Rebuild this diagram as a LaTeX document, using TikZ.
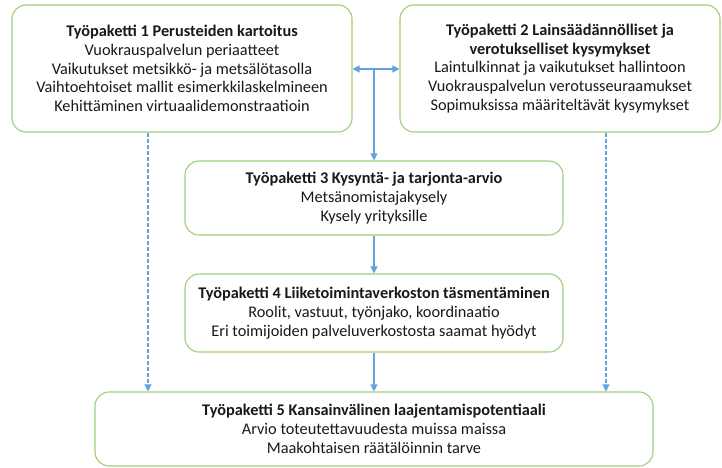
\documentclass[tikz,border=0pt]{standalone}
\usepackage{fontspec}
\setmainfont{Carlito}
\usetikzlibrary{arrows.meta}
\definecolor{boxgreen}{RGB}{160,206,122}
\definecolor{arrblue}{RGB}{96,163,222}
\tikzset{
  wpbox/.style={draw=boxgreen, line width=1.1pt, rounded corners=14pt, fill=white,
    align=center, inner sep=0pt, font=\fontsize{16.3}{18.8}\selectfont, text=black!90},
  conn/.style={draw=arrblue, line width=1.2pt, -{Triangle[length=7pt,width=7pt]}},
  dconn/.style={conn, dash pattern=on 4pt off 2pt},
}
\begin{document}
\begin{tikzpicture}[x=1pt,y=-1pt]
\useasboundingbox (0,0) rectangle (722,467);
\node[wpbox, minimum width=340pt, minimum height=127pt] (wp1) at (182,68.5)
  {\textbf{Työpaketti 1 Perusteiden kartoitus}\\Vuokrauspalvelun periaatteet\\Vaikutukset metsikkö- ja metsälötasolla\\Vaihtoehtoiset mallit esimerkkilaskelmineen\\Kehittäminen virtuaalidemonstraatioin};
\node[wpbox, minimum width=320pt, minimum height=127pt] (wp2) at (560,68.5)
  {\textbf{Työpaketti 2 Lainsäädännölliset ja}\\\textbf{verotukselliset kysymykset}\\Laintulkinnat ja vaikutukset hallintoon\\Vuokrauspalvelun verotusseuraamukset\\Sopimuksissa määriteltävät kysymykset};
\node[wpbox, minimum width=378pt, minimum height=74pt] (wp3) at (374,198)
  {\textbf{Työpaketti 3 Kysyntä- ja tarjonta-arvio}\\Metsänomistajakysely\\Kysely yrityksille};
\node[wpbox, minimum width=378pt, minimum height=78pt] (wp4) at (374,313)
  {\textbf{Työpaketti 4 Liiketoimintaverkoston täsmentäminen}\\Roolit, vastuut, työnjako, koordinaatio\\Eri toimijoiden palveluverkostosta saamat hyödyt};
\node[wpbox, minimum width=558pt, minimum height=74pt] (wp5) at (374,429)
  {\textbf{Työpaketti 5 Kansainvälinen laajentamispotentiaali}\\Arvio toteutettavuudesta muissa maissa\\Maakohtaisen räätälöinnin tarve};
\coordinate (mid) at (374,69);
\coordinate (dl) at (148,0);
\coordinate (dr) at (606,0);
\draw[conn, {Triangle[length=7pt,width=7pt]}-{Triangle[length=7pt,width=7pt]}] (wp1.east |- mid) -- (wp2.west |- mid);
\draw[conn] (mid) -- (wp3.north);
\draw[conn] (wp3.south) -- (wp4.north);
\draw[conn] (wp4.south) -- (wp5.north);
\draw[dconn] (wp1.south -| dl) -- (wp5.north -| dl);
\draw[dconn] (wp2.south -| dr) -- (wp5.north -| dr);
\end{tikzpicture}
\end{document}
